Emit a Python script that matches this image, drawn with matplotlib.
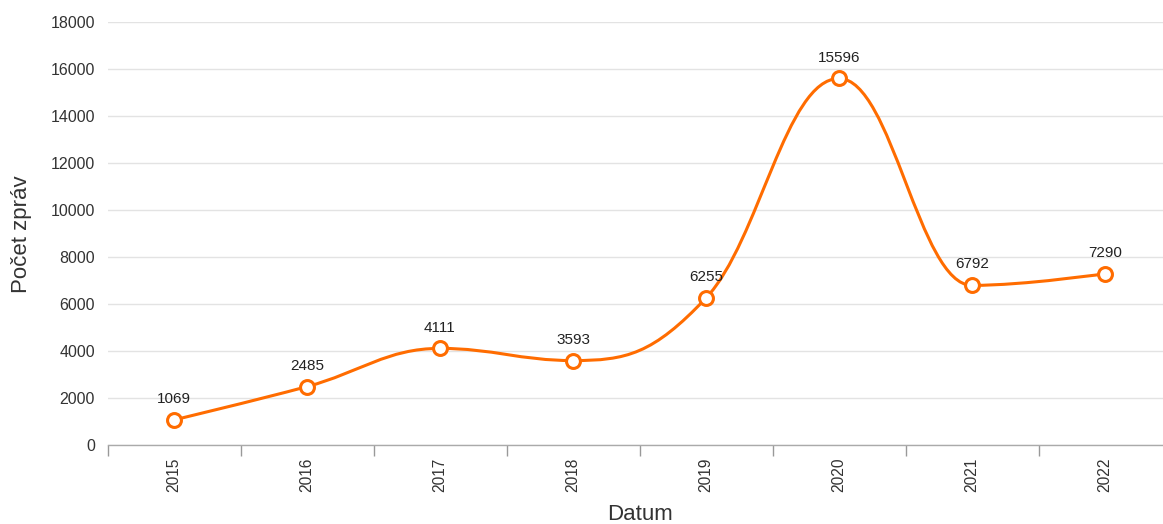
import numpy as np
import matplotlib
matplotlib.use("Agg")
import matplotlib.pyplot as plt
from matplotlib.path import Path
from matplotlib.patches import PathPatch

years = ["2015", "2016", "2017", "2018", "2019", "2020", "2021", "2022"]
counts = [1069, 2485, 4111, 3593, 6255, 15596, 6792, 7290]
y_ticks = list(range(0, 18001, 2000))

plt.rcParams['font.family'] = ['Liberation Sans', 'DejaVu Sans']

W, H = 1163, 524
fig = plt.figure(figsize=(W / 100, H / 100), dpi=100)
left, right, top, bottom = 107.5, 1171.5, 22, 445
ax = fig.add_axes([left / W, 1 - bottom / H, (right - left) / W, (bottom - top) / H])

color = '#ff6c00'
xs = np.arange(len(years), dtype=float)
ys = np.array(counts, dtype=float)

# Highcharts-like spline
def controls(i):
    if i == 0 or i == len(xs) - 1:
        return (xs[i], ys[i]), (xs[i], ys[i])
    s = 1.5
    d = s + 1
    lx, ly = xs[i - 1], ys[i - 1]
    nx, ny = xs[i + 1], ys[i + 1]
    px, py = xs[i], ys[i]
    lcx = (s * px + lx) / d
    lcy = (s * py + ly) / d
    rcx = (s * px + nx) / d
    rcy = (s * py + ny) / d
    if rcx != lcx:
        corr = ((rcy - lcy) * (rcx - px)) / (rcx - lcx) + py - rcy
        lcy += corr
        rcy += corr
    if lcy > ly and lcy > py:
        lcy = max(ly, py)
        rcy = 2 * py - lcy
    elif lcy < ly and lcy < py:
        lcy = min(ly, py)
        rcy = 2 * py - lcy
    if rcy > ny and rcy > py:
        rcy = max(ny, py)
        lcy = 2 * py - rcy
    elif rcy < ny and rcy < py:
        rcy = min(ny, py)
        lcy = 2 * py - rcy
    return (lcx, lcy), (rcx, rcy)

verts = [(xs[0], ys[0])]
codes = [Path.MOVETO]
for i in range(1, len(xs)):
    _, rc = controls(i - 1)
    lc, _ = controls(i)
    verts += [rc, lc, (xs[i], ys[i])]
    codes += [Path.CURVE4] * 3
ax.add_patch(PathPatch(Path(verts, codes), fill=False, edgecolor=color, lw=2.2, zorder=3))

ax.plot(xs, ys, linestyle='none', marker='o', markersize=10, markerfacecolor='white',
        markeredgecolor=color, markeredgewidth=2.2, zorder=4)

for x, y in zip(xs, ys):
    ax.annotate(f"{int(y)}", (x, y), xytext=(0, 10), textcoords='offset points',
                ha='center', va='bottom', fontsize=11, color='#222222', zorder=5)

ax.set_xlim(-0.5, len(years) - 0.5)
ax.set_ylim(0, 18000)
ax.set_yticks(y_ticks)
ax.set_yticklabels([str(v) for v in y_ticks], fontsize=11.5, color='#333333')
ax.set_xticks(xs)
ax.set_xticklabels(years, rotation=90, fontsize=11.2, color='#333333')
ax.tick_params(axis='x', length=0, pad=9)
ax.set_xticks(np.arange(-0.5, len(years), 1.0), minor=True)
ax.tick_params(axis='x', which='minor', length=8, width=1, color='#999999')
ax.tick_params(axis='y', length=0, pad=9)

ax.grid(axis='y', color='#e3e3e3', lw=1)
ax.set_axisbelow(True)
for s in ['top', 'right', 'left']:
    ax.spines[s].set_visible(False)
ax.spines['bottom'].set_color('#aaaaaa')
ax.spines['bottom'].set_linewidth(1)

fig.text(22 / W, 1 - 234 / H, "Počet zpráv", rotation=90, ha='center', va='center',
         fontsize=16, color='#333333')
fig.text(640 / W, 1 - 514 / H, "Datum", ha='center', va='center', fontsize=16, color='#333333')

fig.savefig("out.png", dpi=100, facecolor='white')
